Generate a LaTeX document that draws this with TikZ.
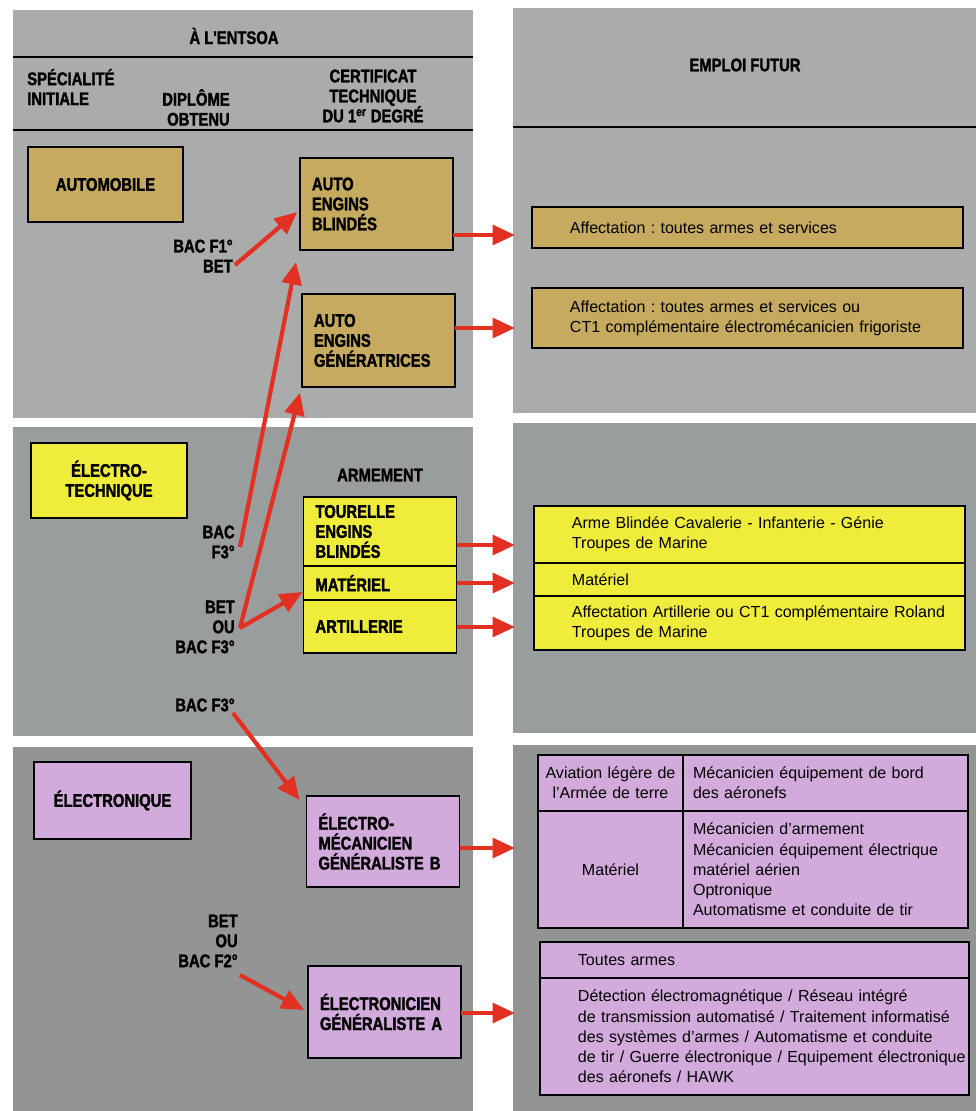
\documentclass[tikz,border=0pt]{standalone}
\usepackage{fontspec}
\setmainfont{Liberation Sans}
\newfontfamily\headfont[FakeStretch=0.81,RawFeature={embolden=1.6}]{Liberation Sans Bold}
\usepackage{xcolor}
\usetikzlibrary{positioning}
\usetikzlibrary{arrows.meta}
\definecolor{grayA}{RGB}{170,172,172}
\definecolor{grayB}{RGB}{154,157,157}
\definecolor{grayC}{RGB}{146,149,148}
\definecolor{gold}{RGB}{197,170,96}
\definecolor{lemon}{RGB}{240,236,60}
\definecolor{lilac}{RGB}{210,170,220}
\definecolor{arrowred}{RGB}{226,48,34}
\newcommand{\hd}{\headfont\fontsize{13}{14.2}\selectfont}
\newcommand{\bd}{\fontsize{11.4}{14.4}\selectfont}
\frenchspacing

\begin{document}
\begin{tikzpicture}[x=0.025cm, y=-0.025cm,
    hdlabel/.style={font=\hd, inner sep=0pt},
    spebox/.style={draw, line width=0.9pt, fill=#1, font=\hd, align=center, inner sep=0pt, outer sep=0pt},
    ctbox/.style={draw, line width=0.9pt, fill=#1, font=\hd, align=left, text width=3.225cm, inner xsep=0.3cm, inner ysep=0pt, outer sep=0pt},
    futbox/.style={draw, line width=0.9pt, fill=#1, font=\bd, align=left, inner sep=0pt, outer sep=0pt},
    indent/.style={execute at begin node={\leftskip=#1\rightskip=-1cm plus 1fil}},
    redarrow/.style={draw=arrowred, line width=3pt, -{Triangle[length=16pt,width=14pt]}},
    rule/.style={line width=1pt}]
    \useasboundingbox (0,0) rectangle (976,1111);

    % Panels
    \fill[grayA] (13,10) rectangle (473,418);
    \fill[grayB] (13,427) rectangle (473,736);
    \fill[grayC] (13,747) rectangle (473,1111);
    \fill[grayA] (513,8) rectangle (976,413);
    \fill[grayB] (513,423) rectangle (976,733);
    \fill[grayC] (513,745) rectangle (976,1111);
    \draw[rule] (13,57) -- (473,57);
    \draw[rule] (13,130) -- (473,130);
    \draw[rule] (513,127) -- (976,127);

    % Headings
    \node[hdlabel] (entsoa) at (234,36) {À L'ENTSOA};
    \node[hdlabel, align=left, anchor=west] (specialite) at (27,87) {SPÉCIALITÉ\\INITIALE};
    \node[hdlabel, align=right, anchor=east] (diplome) at (230,107.5) {DIPLÔME\\OBTENU};
    \node[hdlabel, align=center] (certificat) at (373,96) {CERTIFICAT\\TECHNIQUE\\DU 1\textsuperscript{er} DEGRÉ};
    \node[hdlabel] (emploi) at (745,65) {EMPLOI FUTUR};
    \node[hdlabel] (armement) at (380,475) {ARMEMENT};

    % Automobile
    \node[spebox=gold, minimum width=3.875cm, minimum height=1.875cm] (automobile) at (105.5,184.5) {AUTOMOBILE};
    \node[ctbox=gold, minimum height=2.3cm] (blindes) at (376.5,204) {AUTO\\ENGINS\\BLINDÉS};
    \node[ctbox=gold, minimum height=2.325cm] (generatrices) at (378.5,340.5) {AUTO\\ENGINS\\GÉNÉRATRICES};
    \node[futbox=gold, indent=0.95cm, text width=10.775cm, minimum height=1.025cm] (affA) at (747.5,227.5) {Affectation~: toutes armes et services};
    \node[futbox=gold, indent=0.95cm, text width=10.775cm, minimum height=1.5cm] (affB) at (747.5,318) {Affectation~: toutes armes et services ou\\CT1 complémentaire électromécanicien frigoriste};

    % Electrotechnique
    \node[spebox=lemon, minimum width=3.9cm, minimum height=1.875cm] (electrotech) at (109,480.5) {ÉLECTRO-\\TECHNIQUE};
    \node[ctbox=lemon, minimum height=1.725cm] (tourelle) at (380,531.5) {TOURELLE\\ENGINS\\BLINDÉS};
    \node[ctbox=lemon, minimum height=0.85cm, below=0pt of tourelle] (materiel) {MATÉRIEL};
    \node[ctbox=lemon, minimum height=1.325cm, below=0pt of materiel] (artillerie) {ARTILLERIE};
    \node[futbox=lemon, indent=0.95cm, text width=10.775cm, minimum height=1.425cm] (armeA) at (749.5,534.5) {Arme Blindée Cavalerie - Infanterie - Génie\\Troupes de Marine};
    \node[futbox=lemon, indent=0.95cm, text width=10.775cm, minimum height=0.825cm, below=0pt of armeA] (armeB) {Matériel};
    \node[futbox=lemon, indent=0.95cm, text width=10.775cm, minimum height=1.35cm, below=0pt of armeB] (armeC) {Affectation Artillerie ou CT1 complémentaire Roland\\Troupes de Marine};

    % Electronique
    \node[spebox=lilac, minimum width=3.925cm, minimum height=1.925cm] (electronique) at (112.5,800.5) {ÉLECTRONIQUE};
    \node[ctbox=lilac, minimum height=2.275cm] (mecab) at (383,841.5) {ÉLECTRO-\\MÉCANICIEN\\GÉNÉRALISTE B};
    \node[ctbox=lilac, minimum height=2.3cm] (elecA) at (384.5,1012) {ÉLECTRONICIEN\\GÉNÉRALISTE A};
    \node[futbox=lilac, align=center, text width=3.625cm, minimum height=1.4cm] (alat) at (610.5,783) {Aviation légère de\\l'Armée de terre};
    \node[futbox=lilac, indent=0.25cm, text width=7.125cm, minimum height=1.4cm, right=0pt of alat] (bord) {Mécanicien équipement de bord\\des aéronefs};
    \node[futbox=lilac, align=center, text width=3.625cm, minimum height=2.925cm, below=0pt of alat] (matcol) {Matériel};
    \node[futbox=lilac, indent=0.25cm, text width=7.125cm, minimum height=2.925cm, below=0pt of bord] (mecarm) {Mécanicien d'armement\\Mécanicien équipement électrique\\matériel aérien\\Optronique\\Automatisme et conduite de tir};
    \node[futbox=lilac, indent=0.95cm, text width=10.725cm, minimum height=0.9cm] (toutes) at (754.5,960) {Toutes armes};
    \node[futbox=lilac, indent=0.95cm, text width=10.725cm, minimum height=2.925cm, below=0pt of toutes] (detection) {Détection électromagnétique / Réseau intégré\\de transmission automatisé / Traitement informatisé\\des systèmes d'armes / Automatisme et conduite\\de tir / Guerre électronique / Equipement électronique\\des aéronefs / HAWK};

    % Diplomas
    \node[hdlabel, align=right, anchor=east] (bacF1) at (233,256) {BAC F1°\\BET};
    \node[hdlabel, align=right, anchor=east] (bacF3a) at (235,542) {BAC\\F3°};
    \node[hdlabel, align=right, anchor=east] (betF3) at (235,627) {BET\\OU\\BAC F3°};
    \node[hdlabel, anchor=east] (bacF3b) at (235,705) {BAC F3°};
    \node[hdlabel, align=right, anchor=east] (betF2) at (238,941) {BET\\OU\\BAC F2°};
    \coordinate (tA) at (235,265);
    \coordinate (tB) at (240,547);
    \coordinate (tC) at (240,628);
    \coordinate (tD) at (233,713);
    \coordinate (tE) at (240,975);

    \draw[redarrow] (tA) -- ([xshift=-2pt,yshift=-5.7pt]blindes.west);
    \draw[redarrow] (tB) -- ([xshift=-2.8pt,yshift=-8.5pt]blindes.south west);
    \draw[redarrow] (tC) -- ([xshift=-1.4pt,yshift=-4pt]generatrices.south west);
    \draw[redarrow] (tC) -- ([xshift=-0.7pt,yshift=-6.4pt]materiel.west);
    \draw[redarrow] (tD) -- ([xshift=-5pt,yshift=-2.8pt]mecab.north west);
    \draw[redarrow] (tE) -- ([xshift=-2.8pt,yshift=1.4pt]elecA.west);

    % Towards future jobs
    \coordinate (eA) at (515,235);
    \coordinate (eB) at (515,328);
    \coordinate (eC) at (515,545);
    \coordinate (eD) at (515,583);
    \coordinate (eE) at (515,627);
    \coordinate (eF) at (515,848);
    \coordinate (eG) at (515,1013);
    \draw[redarrow] (blindes.east |- eA) -- (eA);
    \draw[redarrow] (generatrices.east |- eB) -- (eB);
    \draw[redarrow] (tourelle.east |- eC) -- (eC);
    \draw[redarrow] (materiel.east |- eD) -- (eD);
    \draw[redarrow] (artillerie.east |- eE) -- (eE);
    \draw[redarrow] (mecab.east |- eF) -- (eF);
    \draw[redarrow] (elecA.east |- eG) -- (eG);
\end{tikzpicture}
\end{document}
